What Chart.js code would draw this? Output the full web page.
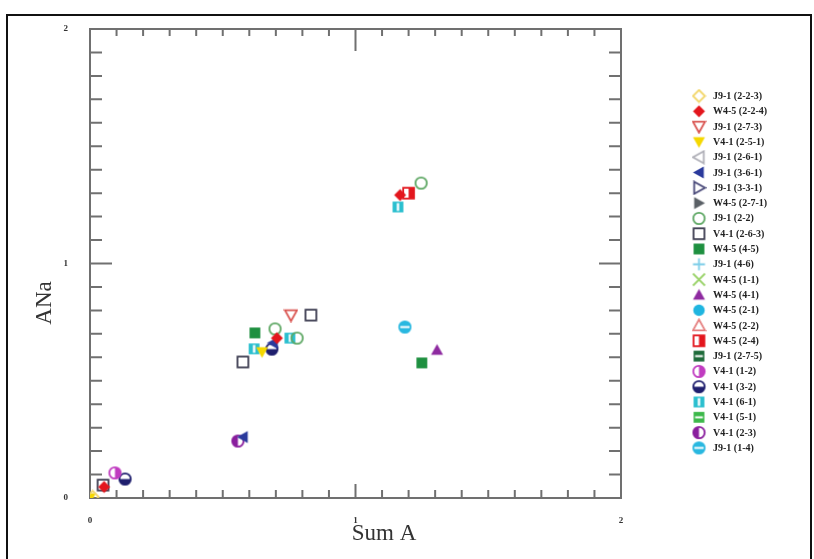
<!DOCTYPE html>
<html lang="en">
  <head>
    <meta charset="UTF-8" />
    <title>ANa vs Sum A</title>
    <script src="https://cdn.jsdelivr.net/npm/chart.js"></script>
    <style>
      body { margin: 0; background: #fff; }
      #wrap { width: 814px; height: 559px; }
    </style>
  </head>
  <body>
    <div id="wrap"><canvas id="anaChart" width="814" height="559"></canvas></div>
    <script>
      // legend entries, in the order of the reference
      const seriesNames = [
        "J9-1 (2-2-3)", "W4-5 (2-2-4)", "J9-1 (2-7-3)", "V4-1 (2-5-1)",
        "J9-1 (2-6-1)", "J9-1 (3-6-1)", "J9-1 (3-3-1)", "W4-5 (2-7-1)",
        "J9-1 (2-2)", "V4-1 (2-6-3)", "W4-5 (4-5)", "J9-1 (4-6)",
        "W4-5 (1-1)", "W4-5 (4-1)", "W4-5 (2-1)", "W4-5 (2-2)",
        "W4-5 (2-4)", "J9-1 (2-7-5)", "V4-1 (1-2)", "V4-1 (3-2)",
        "V4-1 (6-1)", "V4-1 (5-1)", "V4-1 (2-3)", "J9-1 (1-4)"
      ];

      // points: series index, Sum A, ANa
      const pointSeries = [0, 1, 1, 1, 2, 3, 3, 5, 5, 8, 8, 8, 9, 9, 9, 10, 10, 13, 16, 18, 19, 19, 20, 20, 20, 22, 23];
      const sumA = [0.01, 0.053, 1.168, 0.704, 0.757, 0.0, 0.648, 0.576, 0.689, 1.247, 0.697, 0.78, 0.049, 0.832, 0.576, 0.621, 1.25, 1.307, 1.2, 0.094, 0.132, 0.685, 1.16, 0.618, 0.753, 0.557, 1.186];
      const aNa = [0.005, 0.047, 1.292, 0.682, 0.78, 0.0, 0.623, 0.26, 0.661, 1.343, 0.721, 0.682, 0.055, 0.78, 0.58, 0.704, 0.576, 0.631, 1.3, 0.107, 0.081, 0.635, 1.241, 0.636, 0.682, 0.243, 0.729];

      const xTicks = [0, 1, 2];
      const yTicks = [0, 1, 2];

      // marker look for each series
      const markerKinds = [
        "diamondOpen", "diamond", "triDownOpen", "triDown",
        "triLeftOpen", "triLeft", "triRightOpen", "triRight",
        "circleOpen", "squareOpen", "square", "plus",
        "cross", "triUp", "circle", "triUpOpen",
        "squareHalfRight", "squareStripeH", "circleHalfRight", "circleHalfBottom",
        "squareStripeV", "squareStripeH", "circleHalfLeft", "circleStripeH"
      ];
      const markerColors = [
        "#f2d66a", "#e3161d", "#d9534f", "#f5d800",
        "#b0b0b8", "#2a3a9c", "#4a4a7a", "#5a6066",
        "#5fa865", "#3c3c50", "#1e9040", "#7ccde8",
        "#9ad36a", "#8e2aa0", "#1fb5e0", "#e58080",
        "#e3161d", "#1e6b3a", "#c03cc0", "#1f1f6e",
        "#2bbfcf", "#3cb84a", "#8a1f9e", "#2ab8e0"
      ];

      function makeMarker(kind, color) {
        const S = 15, c = 7.5, r = 6;
        const cv = document.createElement("canvas");
        cv.width = S;
        cv.height = S;
        const g = cv.getContext("2d");
        g.lineWidth = 1.8;
        g.strokeStyle = color;
        g.fillStyle = color;
        const poly = (pts) => {
          g.beginPath();
          g.moveTo(pts[0][0], pts[0][1]);
          for (let i = 1; i < pts.length; i++) g.lineTo(pts[i][0], pts[i][1]);
          g.closePath();
        };
        const tri = {
          Down: [[c - r, c - r * 0.8], [c + r, c - r * 0.8], [c, c + r]],
          Up: [[c - r, c + r * 0.8], [c + r, c + r * 0.8], [c, c - r]],
          Left: [[c + r * 0.8, c - r], [c + r * 0.8, c + r], [c - r, c]],
          Right: [[c - r * 0.8, c - r], [c - r * 0.8, c + r], [c + r, c]]
        };
        const q = r * 0.9;
        if (kind.startsWith("tri")) {
          const dir = kind.replace("tri", "").replace("Open", "");
          poly(tri[dir]);
          if (kind.endsWith("Open")) g.stroke();
          else g.fill();
        } else if (kind.startsWith("diamond")) {
          poly([[c, c - r], [c + r, c], [c, c + r], [c - r, c]]);
          if (kind.endsWith("Open")) g.stroke();
          else g.fill();
        } else if (kind === "square") {
          g.fillRect(c - q, c - q, 2 * q, 2 * q);
        } else if (kind === "squareOpen") {
          g.strokeRect(c - q, c - q, 2 * q, 2 * q);
        } else if (kind === "squareHalfRight") {
          g.fillStyle = "#fff";
          g.fillRect(c - q, c - q, 2 * q, 2 * q);
          g.fillStyle = color;
          g.fillRect(c, c - q, q, 2 * q);
          g.strokeRect(c - q, c - q, 2 * q, 2 * q);
        } else if (kind === "squareStripeH") {
          g.fillRect(c - q, c - q, 2 * q, 2 * q);
          g.fillStyle = "#fff";
          g.fillRect(c - q + 1.5, c - 1, 2 * q - 3, 2);
        } else if (kind === "squareStripeV") {
          g.fillRect(c - q, c - q, 2 * q, 2 * q);
          g.fillStyle = "#fff";
          g.fillRect(c - 1.2, c - q + 1.5, 2.4, 2 * q - 3);
        } else if (kind === "plus" || kind === "cross") {
          g.beginPath();
          if (kind === "plus") {
            g.moveTo(c - r, c); g.lineTo(c + r, c);
            g.moveTo(c, c - r); g.lineTo(c, c + r);
          } else {
            g.moveTo(c - r, c - r); g.lineTo(c + r, c + r);
            g.moveTo(c + r, c - r); g.lineTo(c - r, c + r);
          }
          g.stroke();
        } else if (kind.startsWith("circle")) {
          const rc = r * 0.95;
          g.beginPath();
          g.arc(c, c, rc, 0, Math.PI * 2);
          if (kind === "circle") {
            g.fill();
          } else if (kind === "circleOpen") {
            g.stroke();
          } else {
            g.fillStyle = "#fff";
            g.fill();
            g.save();
            g.beginPath();
            g.arc(c, c, rc, 0, Math.PI * 2);
            g.clip();
            g.fillStyle = color;
            if (kind === "circleHalfRight") g.fillRect(c, 0, S, S);
            if (kind === "circleHalfLeft") g.fillRect(0, 0, c, S);
            if (kind === "circleHalfBottom") g.fillRect(0, c, S, S);
            if (kind === "circleStripeH") {
              g.fillRect(0, 0, S, S);
              g.fillStyle = "#fff";
              g.fillRect(0, c - 1, S, 2);
            }
            g.restore();
            g.beginPath();
            g.arc(c, c, rc, 0, Math.PI * 2);
            g.stroke();
          }
        }
        return cv;
      }

      const markers = seriesNames.map((n, i) => makeMarker(markerKinds[i], markerColors[i]));

      const datasets = seriesNames.map((name, i) => {
        const pts = [];
        pointSeries.forEach((s, k) => {
          if (s === i) pts.push({ x: sumA[k], y: aNa[k] });
        });
        return {
          label: name,
          data: pts,
          pointStyle: markers[i],
          pointRadius: 6,
          pointHoverRadius: 6
        };
      });

      const serif = "'Liberation Serif', 'DejaVu Serif', serif";

      // own axes box with inward ticks, titles, outer frame and legend
      const figurePlugin = {
        id: "figure",
        beforeDraw(chart) {
          const ctx = chart.ctx;
          ctx.save();
          ctx.strokeStyle = "#111";
          ctx.lineWidth = 2;
          ctx.strokeRect(7, 15, 804, 600);
          ctx.restore();
        },
        beforeDatasetsDraw(chart) {
          const ctx = chart.ctx;
          const xs = chart.scales.x, ys = chart.scales.y;
          const a = chart.chartArea;
          ctx.save();
          ctx.strokeStyle = "#707070";
          ctx.lineWidth = 2;
          ctx.strokeRect(a.left, a.top, a.right - a.left, a.bottom - a.top);
          ctx.beginPath();
          for (let k = 1; k < 20; k++) {
            const v = k / 10;
            const major = k % 10 === 0;
            const px = xs.getPixelForValue(v);
            const lh = major ? 14 : 8;
            ctx.moveTo(px, a.bottom); ctx.lineTo(px, a.bottom - lh);
            ctx.moveTo(px, a.top); ctx.lineTo(px, a.top + (major ? 22 : 7));
            const py = ys.getPixelForValue(v);
            const lv = major ? 22 : 12;
            ctx.moveTo(a.left, py); ctx.lineTo(a.left + lv, py);
            ctx.moveTo(a.right, py); ctx.lineTo(a.right - lv, py);
          }
          ctx.stroke();
          ctx.restore();
        },
        afterDraw(chart) {
          const ctx = chart.ctx;
          ctx.save();
          ctx.fillStyle = "#333";
          ctx.font = "23px " + serif;
          ctx.textAlign = "center";
          ctx.textBaseline = "middle";
          ctx.fillText("Sum A", 384, 534);
          ctx.translate(45, 303);
          ctx.rotate(-Math.PI / 2);
          ctx.fillText("ANa", 0, 0);
          ctx.restore();

          ctx.save();
          ctx.font = "bold 10px " + serif;
          ctx.fillStyle = "#222";
          ctx.textBaseline = "middle";
          chart.data.datasets.forEach((ds, i) => {
            const y = 96 + i * 15.3;
            const m = ds.pointStyle;
            ctx.drawImage(m, 699 - m.width / 2, y - m.height / 2);
            ctx.fillText(ds.label, 713, y + 0.5);
          });
          ctx.restore();
        }
      };

      new Chart(document.getElementById("anaChart"), {
        type: "scatter",
        data: { datasets: datasets },
        options: {
          responsive: false,
          animation: false,
          events: [],
          layout: { padding: { left: 0, top: 29, right: 193, bottom: 0 } },
          plugins: { legend: { display: false }, tooltip: { enabled: false } },
          scales: {
            x: {
              type: "linear",
              min: 0,
              max: 2,
              afterFit: (s) => { s.height = 61; },
              afterBuildTicks: (s) => { s.ticks = xTicks.map((v) => ({ value: v })); },
              grid: { display: false },
              border: { display: false },
              ticks: {
                padding: 9,
                color: "#333",
                font: { family: serif, size: 9, weight: "bold" }
              }
            },
            y: {
              type: "linear",
              min: 0,
              max: 2,
              afterFit: (s) => { s.width = 90; },
              afterBuildTicks: (s) => { s.ticks = yTicks.map((v) => ({ value: v })); },
              grid: { display: false },
              border: { display: false },
              ticks: {
                padding: 14,
                color: "#333",
                font: { family: serif, size: 9, weight: "bold" }
              }
            }
          }
        },
        plugins: [figurePlugin]
      });
    </script>
  </body>
</html>
